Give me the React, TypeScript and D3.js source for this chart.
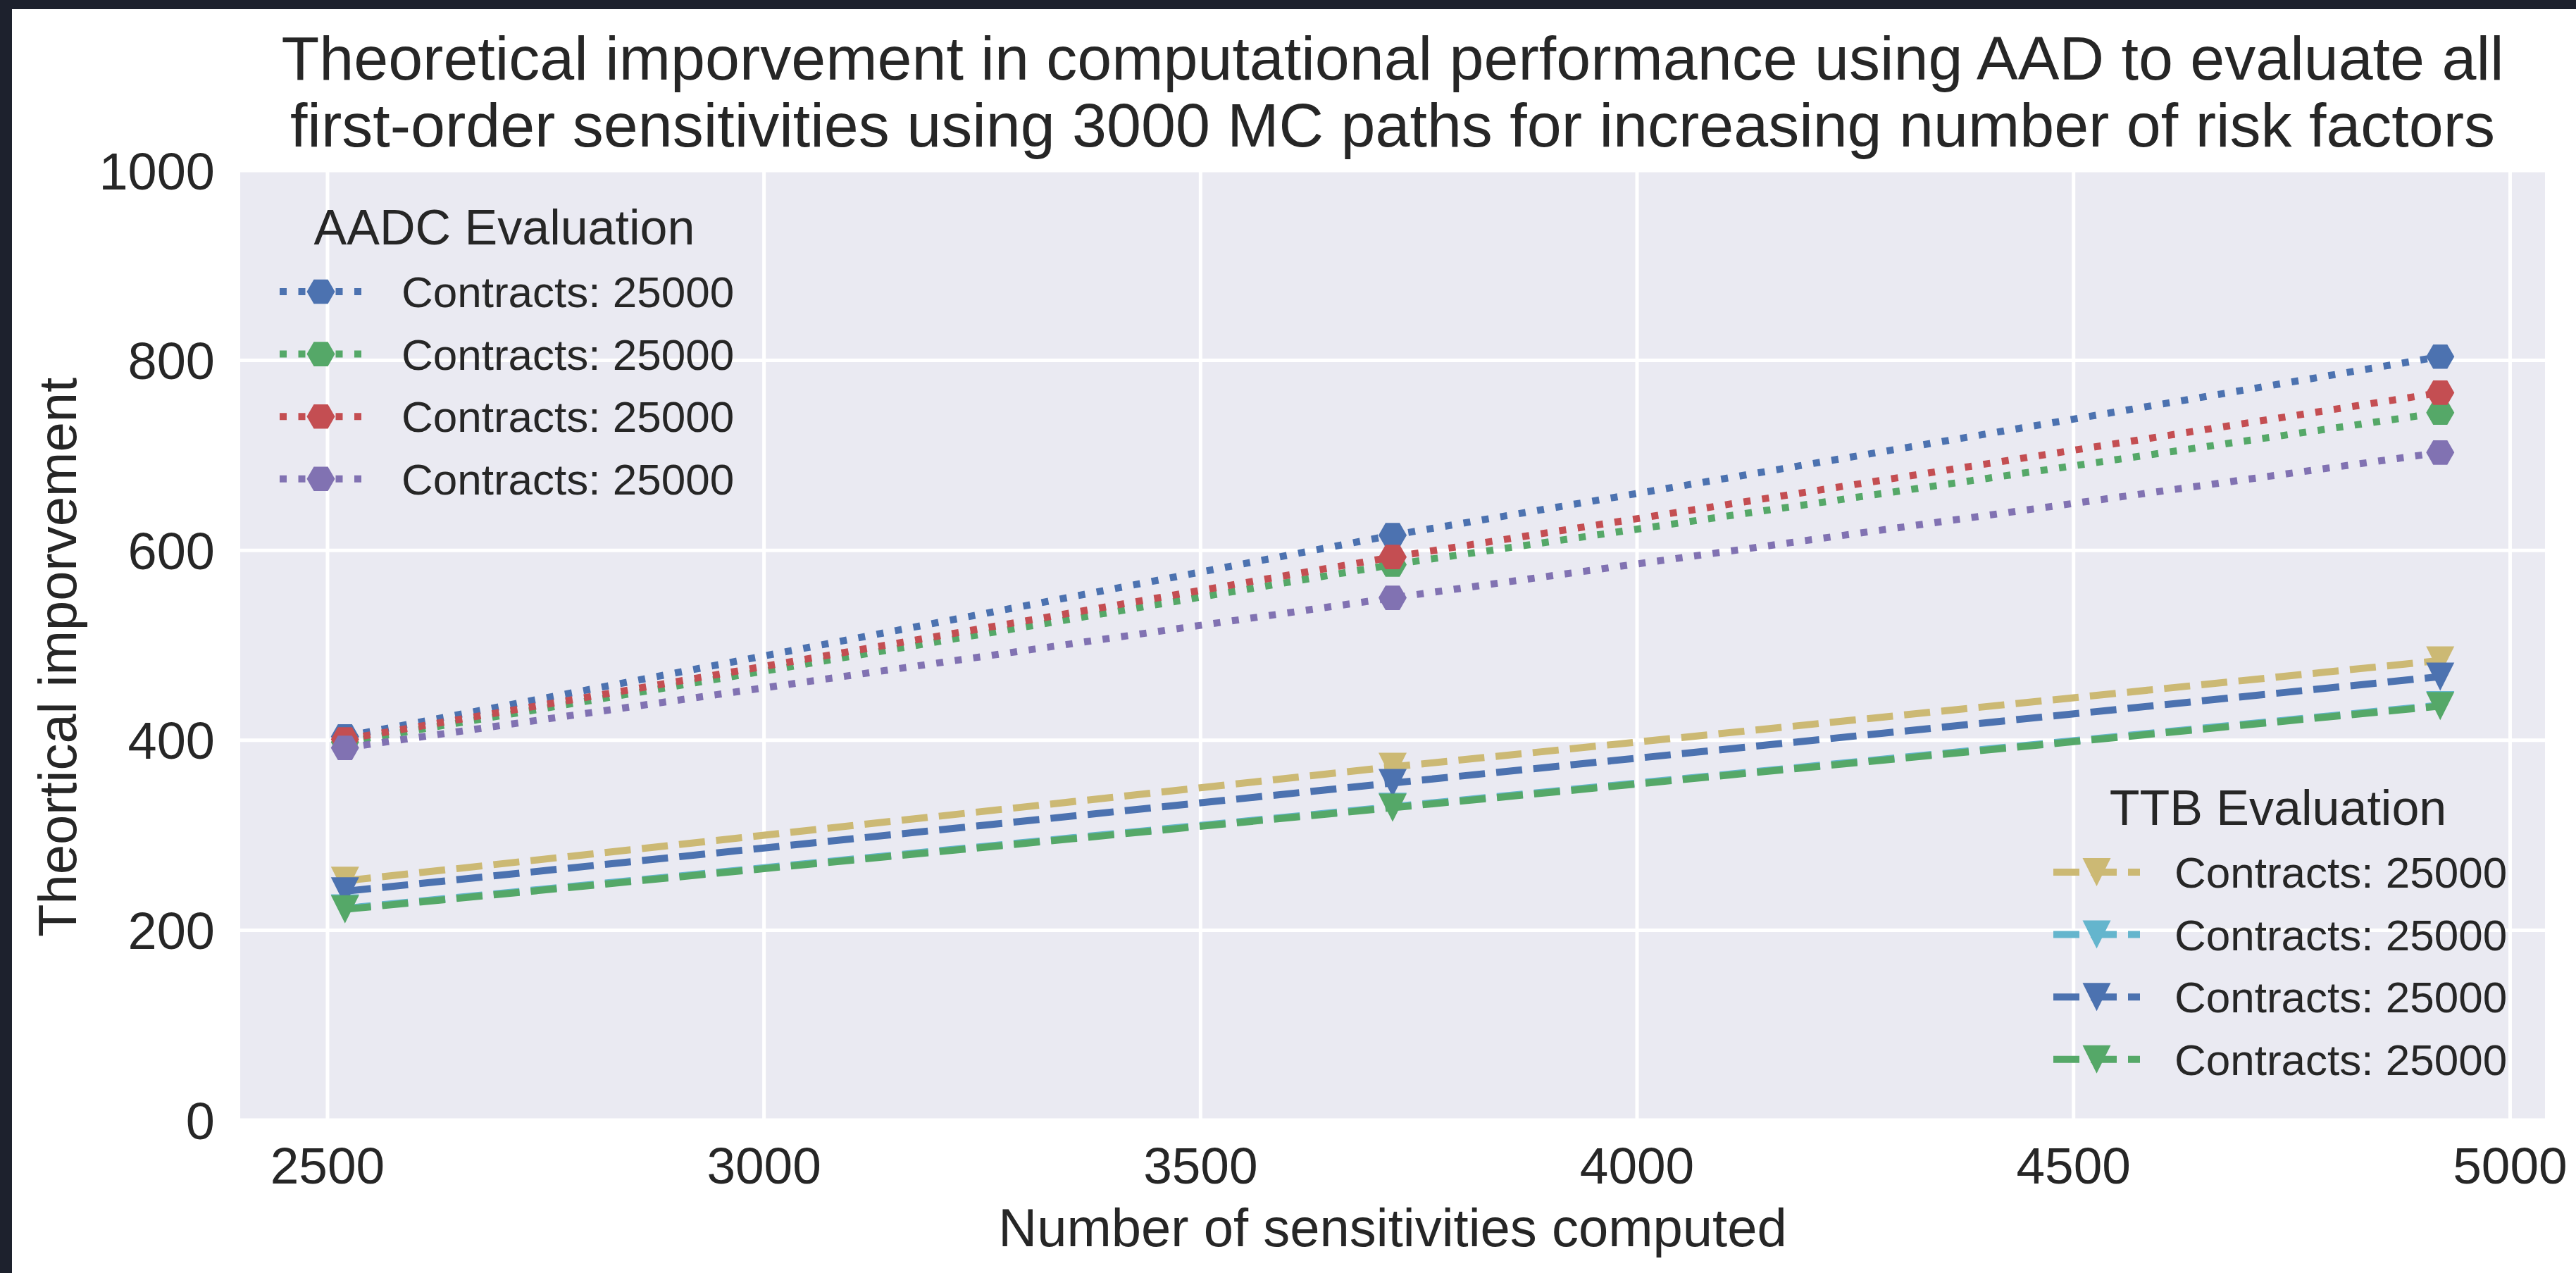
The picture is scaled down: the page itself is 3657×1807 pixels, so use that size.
import * as d3 from "d3";

// number of sensitivities computed (x positions of the three runs)
const sensitivities = [2520, 3720, 4920];

// AADC evaluation (dotted, hexagon markers)
const aadcBlue = [404, 616, 804];
const aadcGreen = [398, 585, 745];
const aadcRed = [401, 593, 766];
const aadcPurple = [392, 550, 703];

// TTB evaluation (dashed, triangle markers)
const ttbYellow = [252, 372, 484];
const ttbCyan = [223, 330, 437];
const ttbBlue = [241, 355, 467];
const ttbGreen = [222, 329, 436];

const aadcLabels = ["Contracts: 25000", "Contracts: 25000", "Contracts: 25000", "Contracts: 25000"];
const ttbLabels = ["Contracts: 25000", "Contracts: 25000", "Contracts: 25000", "Contracts: 25000"];

const xTicks = [2500, 3000, 3500, 4000, 4500, 5000];
const yTicks = [0, 200, 400, 600, 800, 1000];

const titleLines = [
  "Theoretical imporvement in computational performance using AAD to evaluate all",
  "first-order sensitivities using 3000 MC paths for increasing number of risk factors",
];

const W = 3657;
const H = 1807;
const plot = { left: 341, top: 242, right: 3613, bottom: 1590 };
const font = "'Liberation Sans', Arial, Helvetica, sans-serif";
const ink = "#262626";

const c = {
  blue: "#4C72B0",
  green: "#55A868",
  red: "#C44E52",
  purple: "#8172B2",
  yellow: "#CCB974",
  cyan: "#64B5CD",
};

const aadcSeries = [
  { values: aadcBlue, color: c.blue },
  { values: aadcGreen, color: c.green },
  { values: aadcRed, color: c.red },
  { values: aadcPurple, color: c.purple },
];
const ttbSeries = [
  { values: ttbYellow, color: c.yellow },
  { values: ttbCyan, color: c.cyan },
  { values: ttbBlue, color: c.blue },
  { values: ttbGreen, color: c.green },
];

const x = d3.scaleLinear().domain([2400, 5040]).range([plot.left, plot.right]);
const y = d3.scaleLinear().domain([0, 1000]).range([plot.bottom, plot.top]);

const line = d3
  .line<number>()
  .x((_, i) => x(sensitivities[i]))
  .y((d) => y(d));

const hexR = 20;
const hexPath =
  d3.line()(d3.range(6).map((k) => [hexR * Math.cos((k * Math.PI) / 3), hexR * Math.sin((k * Math.PI) / 3)] as [number, number])) + "Z";
const triPath = "M-20,-20L20,-20L0,20Z";

const LW = 10;
const dotted = "10 16.5";
const dashed = "37 16";

function Legend({ title, titleSize, cx, titleY, rows, handleX, textX, series, labels, marker, dash }) {
  return (
    <g>
      <text x={cx} y={titleY} fontSize={titleSize} textAnchor="middle" fill={ink} fontFamily={font}>
        {title}
      </text>
      {series.map((s, i) => (
        <g key={i}>
          <line
            x1={handleX[0]}
            x2={handleX[1]}
            y1={rows[i]}
            y2={rows[i]}
            stroke={s.color}
            strokeWidth={LW}
            strokeDasharray={dash}
          />
          <path d={marker} fill={s.color} transform={`translate(${(handleX[0] + handleX[1]) / 2},${rows[i]})`} />
          <text x={textX} y={rows[i] + 22} fontSize={62} fill={ink} fontFamily={font}>
            {labels[i]}
          </text>
        </g>
      ))}
    </g>
  );
}

export default function App() {
  const aadcRows = [414, 502.6, 591.2, 679.8];
  const ttbRows = [1238, 1326.6, 1415.2, 1503.8];
  return (
    <svg width={W} height={H} style={{ position: "absolute", left: 0, top: 0, background: "#fff" }}>
      <rect x={0} y={0} width={W} height={H} fill="#ffffff" />
      <rect x={0} y={0} width={17} height={H} fill="#1d212d" />
      <rect x={0} y={0} width={W} height={13} fill="#1d212d" />

      {/* title */}
      {titleLines.map((t, i) => (
        <text key={i} x={(plot.left + plot.right) / 2} y={113 + i * 95} fontSize={88} textAnchor="middle" fill={ink} fontFamily={font}>
          {t}
        </text>
      ))}

      {/* axes background and grid */}
      <defs>
        <clipPath id="plotClip">
          <rect x={plot.left} y={plot.top} width={plot.right - plot.left} height={plot.bottom - plot.top} />
        </clipPath>
      </defs>
      <rect x={plot.left} y={plot.top} width={plot.right - plot.left} height={plot.bottom - plot.top} fill="#EAEAF2" />
      <g clipPath="url(#plotClip)">
        {xTicks.map((t) => (
          <line key={"gx" + t} x1={x(t)} x2={x(t)} y1={plot.top} y2={plot.bottom} stroke="#fff" strokeWidth={5} />
        ))}
        {yTicks.map((t) => (
          <line key={"gy" + t} x1={plot.left} x2={plot.right} y1={y(t)} y2={y(t)} stroke="#fff" strokeWidth={5} />
        ))}
      </g>

      {/* tick labels */}
      {xTicks.map((t) => (
        <text key={"tx" + t} x={x(t)} y={1680} fontSize={73} textAnchor="middle" fill={ink} fontFamily={font}>
          {t}
        </text>
      ))}
      {yTicks.map((t) => (
        <text key={"ty" + t} x={305} y={y(t) + 26.5} fontSize={74} textAnchor="end" fill={ink} fontFamily={font}>
          {t}
        </text>
      ))}

      {/* axis labels */}
      <text x={(plot.left + plot.right) / 2} y={1769} fontSize={76} textAnchor="middle" fill={ink} fontFamily={font}>
        Number of sensitivities computed
      </text>
      <text
        transform={`translate(108,933) rotate(-90)`}
        fontSize={76}
        textAnchor="middle"
        fill={ink}
        fontFamily={font}
      >
        Theortical imporvement
      </text>

      {/* series */}
      <g clipPath="url(#plotClip)">
        {aadcSeries.map((s, i) => (
          <g key={"a" + i}>
            <path d={line(s.values)} fill="none" stroke={s.color} strokeWidth={LW} strokeDasharray={dotted} />
            {s.values.map((v, j) => (
              <path key={j} d={hexPath} fill={s.color} transform={`translate(${x(sensitivities[j])},${y(v)})`} />
            ))}
          </g>
        ))}
        {ttbSeries.map((s, i) => (
          <g key={"t" + i}>
            <path d={line(s.values)} fill="none" stroke={s.color} strokeWidth={LW} strokeDasharray={dashed} />
            {s.values.map((v, j) => (
              <path key={j} d={triPath} fill={s.color} transform={`translate(${x(sensitivities[j])},${y(v)})`} />
            ))}
          </g>
        ))}
      </g>

      {/* legends */}
      <Legend
        title="AADC Evaluation"
        titleSize={70}
        cx={716}
        titleY={347}
        rows={aadcRows}
        handleX={[397, 514]}
        textX={570}
        series={aadcSeries}
        labels={aadcLabels}
        marker={hexPath}
        dash={dotted}
      />
      <Legend
        title="TTB Evaluation"
        titleSize={70}
        cx={3234}
        titleY={1171}
        rows={ttbRows}
        handleX={[2915, 3038]}
        textX={3087}
        series={ttbSeries}
        labels={ttbLabels}
        marker={triPath}
        dash={dashed}
      />
    </svg>
  );
}
